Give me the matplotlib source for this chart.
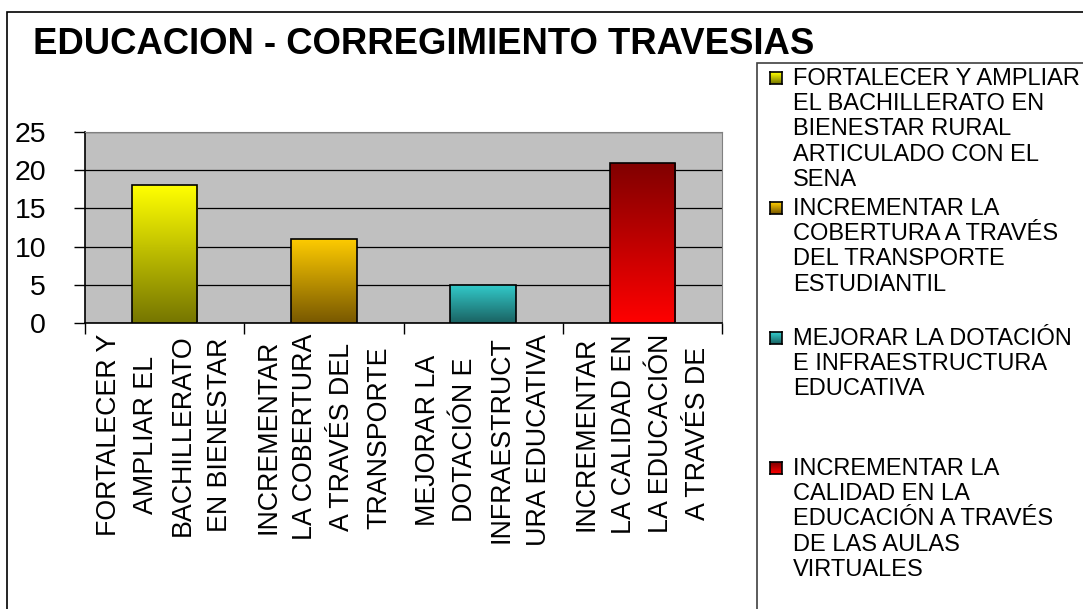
"""
Educacion - Corregimiento Travesias, bar chart with gradient bars
"""
import numpy as np
import matplotlib
matplotlib.use("Agg")
import matplotlib.pyplot as plt
from matplotlib.colors import to_rgb
from matplotlib.patches import Rectangle

plt.rcParams['font.family'] = ['Liberation Sans', 'DejaVu Sans']

title = "EDUCACION - CORREGIMIENTO TRAVESIAS"
categories = [
    "FORTALECER Y\nAMPLIAR EL\nBACHILLERATO\nEN BIENESTAR",
    "INCREMENTAR\nLA COBERTURA\nA TRAVÉS DEL\nTRANSPORTE",
    "MEJORAR LA\nDOTACIÓN E\nINFRAESTRUCT\nURA EDUCATIVA",
    "INCREMENTAR\nLA CALIDAD EN\nLA EDUCACIÓN\nA TRAVÉS DE",
]
legend_labels = [
    "FORTALECER Y AMPLIAR\nEL BACHILLERATO EN\nBIENESTAR RURAL\nARTICULADO CON EL\nSENA",
    "INCREMENTAR LA\nCOBERTURA A TRAVÉS\nDEL TRANSPORTE\nESTUDIANTIL",
    "MEJORAR LA DOTACIÓN\nE INFRAESTRUCTURA\nEDUCATIVA",
    "INCREMENTAR LA\nCALIDAD EN LA\nEDUCACIÓN A TRAVÉS\nDE LAS AULAS\nVIRTUALES",
]
values = [18, 11, 5, 21]
yticks = [0, 5, 10, 15, 20, 25]

# gradient colours (top, bottom) per bar
top_colors = ["#FFFF00", "#FFCC00", "#33CCCC", "#800000"]
bottom_colors = ["#767600", "#785800", "#1A6262", "#FF0000"]


def gradient(c0, c1, n=128):
    t = np.linspace(0, 1, n)[:, None]
    return ((1 - t) * np.array(to_rgb(c0)) + t * np.array(to_rgb(c1)))[:, None, :]


W, H = 1083, 609
fig = plt.figure(figsize=(W / 100, H / 100), dpi=100)
fig.patch.set_facecolor("white")

# outer frame
fig.patches.append(Rectangle((7 / W, -0.1), 1.2, 1 - 12 / H + 0.1, transform=fig.transFigure,
                             fill=False, edgecolor="black", linewidth=1.2))

ax = fig.add_axes([85 / W, 1 - 323 / H, (722 - 85) / W, (323 - 132) / H])
ax.set_facecolor("#C0C0C0")

x = np.arange(len(values))
bars = ax.bar(x, values, width=0.41, facecolor="none", edgecolor="black", linewidth=1.2, zorder=4)
for b, c0, c1 in zip(bars, top_colors, bottom_colors):
    bx, by, bw, bh = b.get_x(), b.get_y(), b.get_width(), b.get_height()
    im = ax.imshow(gradient(c0, c1), extent=[bx, bx + bw, by, by + bh], aspect="auto",
                   origin="upper", zorder=3, interpolation="bilinear")
    im.set_clip_path(b)

ax.set_xlim(-0.5, len(values) - 0.5)
ax.set_ylim(0, 25)
ax.set_yticks(yticks)
ax.set_yticklabels([str(v) for v in yticks], fontsize=20.5)
ax.tick_params(axis="y", length=8, width=1, direction="out", pad=20)
ax.yaxis.grid(True, color="black", linewidth=0.9)
ax.set_axisbelow(True)

ax.set_xticks(x)
ax.set_xticklabels(categories, rotation=90, ha="center", va="top", multialignment="center",
                   fontsize=19.3, linespacing=1.55)
ax.set_xticks(np.arange(-0.5, len(values)), minor=True)
ax.tick_params(axis="x", which="major", length=0, pad=8)
ax.tick_params(axis="x", which="minor", length=8, width=1, direction="out")

for s in ["top", "right"]:
    ax.spines[s].set_color("#808080")
for s in ["left", "bottom"]:
    ax.spines[s].set_color("black")
    ax.spines[s].set_linewidth(1.2)

fig.text(33 / W, 1 - 45 / H, title, fontsize=26.3, fontweight="bold", va="center", ha="left")

# legend box drawn by hand to match the evenly spread entries
fig.patches.append(Rectangle((757 / W, -0.1), 1.0, 1 - 63 / H + 0.1, transform=fig.transFigure,
                             fill=False, edgecolor="#404040", linewidth=1.2))
for i, lab in enumerate(legend_labels):
    ytop = 68 + i * 130
    kax = fig.add_axes([770 / W, 1 - (ytop + 16) / H, 12 / W, 12 / H])
    kax.imshow(gradient(top_colors[i], bottom_colors[i], 16), aspect="auto", interpolation="bilinear")
    kax.set_xticks([])
    kax.set_yticks([])
    for sp in kax.spines.values():
        sp.set_linewidth(1.2)
    fig.text(793 / W, 1 - ytop / H, lab, fontsize=17, va="top", ha="left", linespacing=1.19)

fig.savefig("out.png", dpi=100)
